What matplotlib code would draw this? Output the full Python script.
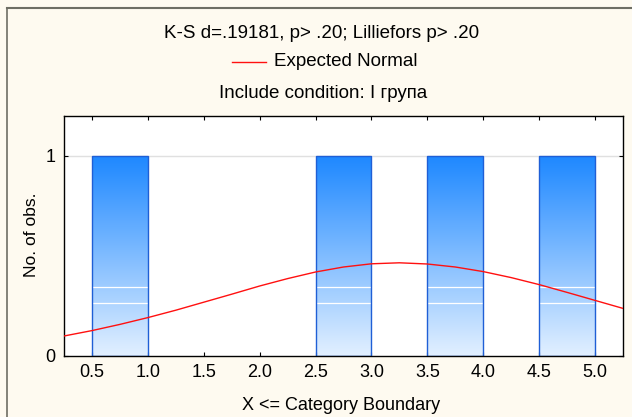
import numpy as np
import matplotlib.pyplot as plt
from matplotlib.lines import Line2D
from matplotlib.patches import Rectangle

plt.rcParams['font.family'] = ['Liberation Sans', 'DejaVu Sans']

# histogram bins (left, right) and counts
bin_left = [0.5, 2.5, 3.5, 4.5]
bin_right = [1.0, 3.0, 4.0, 5.0]
counts = [1, 1, 1, 1]

# expected normal curve
curve_x = [0.25, 0.5, 0.75, 1.0, 1.25, 1.5, 1.75, 2.0, 2.25, 2.5, 2.75,
           3.0, 3.25, 3.5, 3.75, 4.0, 4.25, 4.5, 4.75, 5.0, 5.25]
curve_y = [0.100, 0.127, 0.158, 0.192, 0.229, 0.269, 0.309, 0.350, 0.387,
           0.420, 0.445, 0.461, 0.466, 0.460, 0.445, 0.422, 0.392, 0.357,
           0.318, 0.278, 0.238]

x_ticks = [0.5, 1.0, 1.5, 2.0, 2.5, 3.0, 3.5, 4.0, 4.5, 5.0]
y_ticks = [0, 1]
# faint white stripes inside the bars
stripe_y = [0.343, 0.263]

bg = '#fefaf0'
W, H = 632, 417

fig = plt.figure(figsize=(W / 100, H / 100), dpi=100, facecolor=bg)
ax = fig.add_axes([64 / W, 1 - 356 / H, (623 - 64) / W, (356 - 116) / H])
ax.set_facecolor('white')

# vertical gradient used as bar fill
top = np.array([30, 136, 255]) / 255
bottom = np.array([226, 240, 255]) / 255
t = np.linspace(0, 1, 256)[:, None]
grad = (top * t + bottom * (1 - t))[:, None, :]

ax.axhline(1, color='#e0e0e0', lw=1, zorder=0)

for l, r, c in zip(bin_left, bin_right, counts):
    im = ax.imshow(grad, extent=[l, r, 0, c], origin='lower',
                   aspect='auto', zorder=1, interpolation='bilinear')
    rect = Rectangle((l, 0), r - l, c, fill=False, ec='#1f5fd6', lw=1,
                     zorder=2)
    ax.add_patch(rect)
    im.set_clip_path(rect)
    for sy in stripe_y:
        ax.plot([l + 0.01, r - 0.01], [sy, sy], color='white', lw=0.9,
                zorder=1.5)

ax.plot(curve_x, curve_y, color='#ff1010', lw=1, zorder=3)

ax.set_xlim(0.25, 5.25)
ax.set_ylim(0, 1.2)
ax.set_xticks(x_ticks)
ax.set_xticklabels(['%.1f' % v for v in x_ticks])
ax.set_yticks(y_ticks)
ax.tick_params(direction='in', length=3, top=True, right=True,
               labelsize=13, pad=6, colors='black')
for s in ax.spines.values():
    s.set_linewidth(1)
    s.set_color('black')

ax.set_xlabel('X <= Category Boundary', fontsize=13, va='center')
ax.set_ylabel('No. of obs.', fontsize=12.5, va='center')
ax.xaxis.set_label_coords((341 - 64) / (623 - 64), -(405 - 356) / 240)
ax.yaxis.set_label_coords(-(64 - 31) / (623 - 64), (356 - 235) / 240)

# titles and legend above the plot
fig.text(322 / W, 1 - 33 / H, 'K-S d=.19181, p> .20; Lilliefors p> .20',
         ha='center', va='center', fontsize=13.5)
fig.add_artist(Line2D([232 / W, 266 / W], [1 - 62 / H, 1 - 62 / H],
                      color='#ff1010', lw=1))
fig.text(274 / W, 1 - 62 / H, 'Expected Normal', ha='left', va='center',
         fontsize=13.5)
fig.text(323 / W, 1 - 93 / H, 'Include condition: I група',
         ha='center', va='center', fontsize=13.5)

# outer frame lines (top and left)
fig.add_artist(Line2D([7 / W, 1], [1 - 8 / H, 1 - 8 / H], color='#6e6e64',
                      lw=1.5))
fig.add_artist(Line2D([7 / W, 7 / W], [0, 1 - 8 / H], color='#6e6e64',
                      lw=1.2))

fig.savefig('out.png', dpi=100, facecolor=bg)
